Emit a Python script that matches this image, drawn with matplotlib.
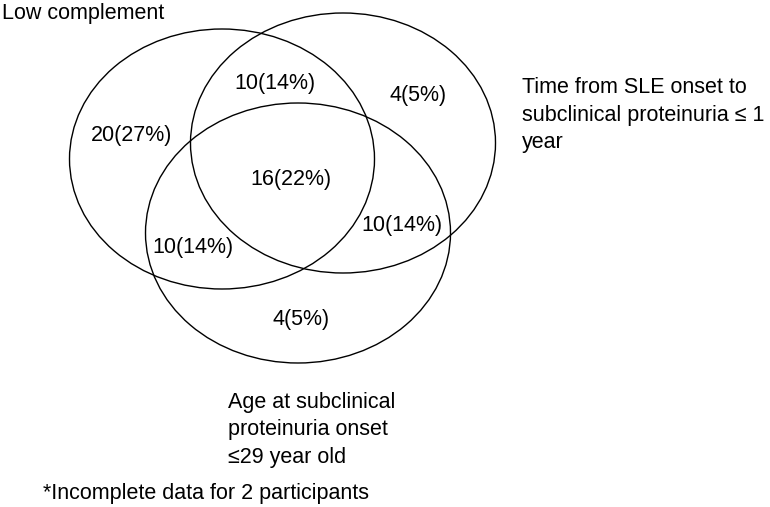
import matplotlib.pyplot as plt
from matplotlib.patches import Ellipse

plt.rcParams['font.family'] = ['Liberation Sans', 'DejaVu Sans']

# Set names and their label positions
set_names = [
    'Low complement',
    'Time from SLE onset to\nsubclinical proteinuria \u2264 1\nyear',
    'Age at subclinical\nproteinuria onset\n\u226429 year old',
]
# ellipse centres (pixels), all the same size
centres = [(222, 159), (343, 143), (298, 233)]
ell_w, ell_h = 305, 260

# region counts and percentages
region_counts = [20, 10, 4, 16, 10, 10, 4]
region_pcts = [27, 14, 5, 22, 14, 14, 5]
region_pos = [(132, 135), (275, 83), (418, 95), (291, 180),
              (402, 225), (193, 247), (301, 319)]

footnote = '*Incomplete data for 2 participants'

fig = plt.figure(figsize=(7.7, 5.07), dpi=100)
ax = fig.add_axes([0, 0, 1, 1])
ax.set_xlim(0, 770)
ax.set_ylim(507, 0)
ax.axis('off')

for c in centres:
    ax.add_patch(Ellipse(c, ell_w, ell_h, fill=False, edgecolor='black', linewidth=1.0))

fs = 15.5
for n, p, (x, y) in zip(region_counts, region_pcts, region_pos):
    ax.text(x, y, f'{n}({p}%)', ha='center', va='center', fontsize=fs)

ax.text(2, 13, set_names[0], ha='left', va='center', fontsize=fs)
ax.text(522, 115, set_names[1], ha='left', va='center', fontsize=fs, linespacing=1.38)
ax.text(228, 430, set_names[2], ha='left', va='center', fontsize=fs, linespacing=1.38)
ax.text(43, 493, footnote, ha='left', va='center', fontsize=fs)

fig.savefig('out.png', dpi=100)
